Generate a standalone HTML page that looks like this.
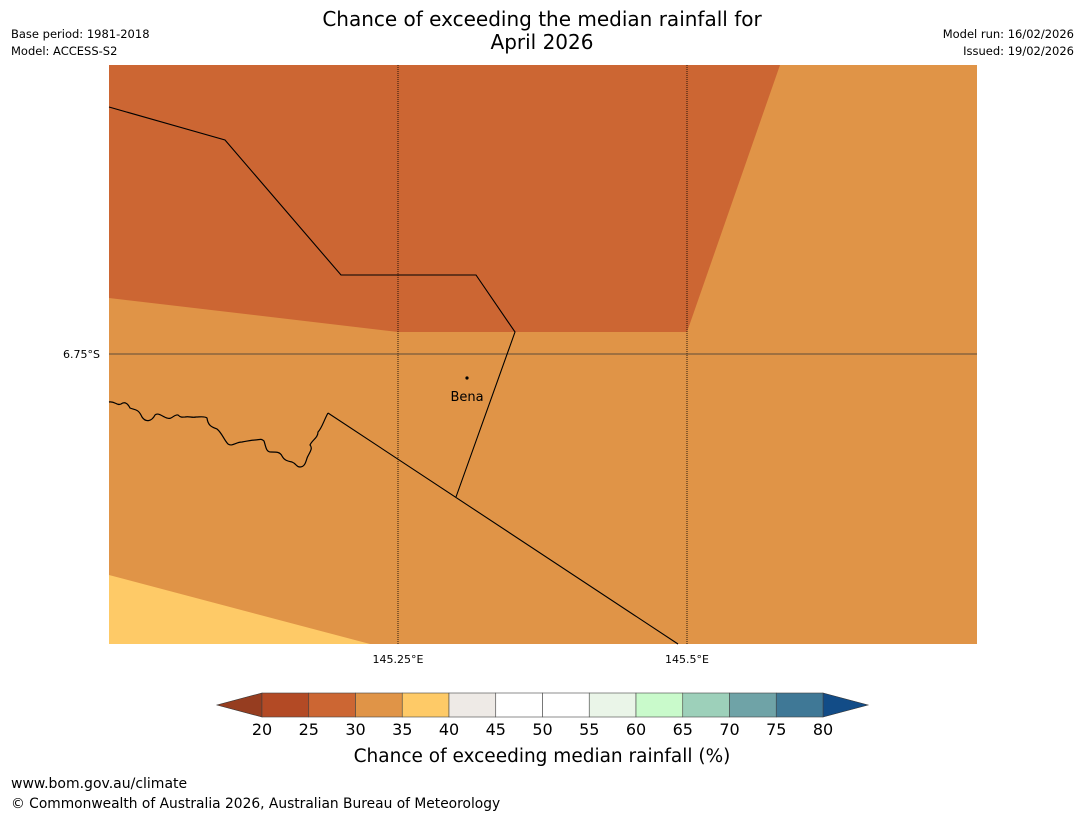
<!DOCTYPE html>
<html><head><meta charset="utf-8"><style>
body{margin:0;background:#fff;width:1085px;height:816px;overflow:hidden;font-family:"Liberation Sans","DejaVu Sans",sans-serif}
svg{position:absolute;left:0;top:0}
</style></head><body>
<svg width="1085" height="816" font-family="DejaVu Sans, Liberation Sans, sans-serif">
<text x="542" y="26" font-size="20" text-anchor="middle">Chance of exceeding the median rainfall for</text>
<text x="542" y="49" font-size="20" text-anchor="middle">April 2026</text>
<text x="11" y="38" font-size="11.5">Base period: 1981-2018</text>
<text x="11" y="55" font-size="11.5">Model: ACCESS-S2</text>
<text x="1074" y="38" font-size="11.5" text-anchor="end">Model run: 16/02/2026</text>
<text x="1074" y="55" font-size="11.5" text-anchor="end">Issued: 19/02/2026</text>
<g>
<rect x="109" y="65" width="868" height="579" fill="#E09447"/>
<polygon points="109,65 780,65 687,332 398,332 109,298" fill="#CC6633"/>
<polygon points="109,575 370,644 109,644" fill="#FECA67"/>
<line x1="398" y1="65" x2="398" y2="644" stroke="#000" stroke-width="0.8" stroke-dasharray="1,1"/>
<line x1="687" y1="65" x2="687" y2="644" stroke="#000" stroke-width="0.8" stroke-dasharray="1,1"/>
<line x1="109" y1="354" x2="977" y2="354" stroke="#333" stroke-width="0.8"/>
<polyline points="109,107 225,140 341,275 476,275 515,332 456,497" fill="none" stroke="#000" stroke-width="1.1"/>
<polyline points="328,413 678,644" fill="none" stroke="#000" stroke-width="1.1"/>
<path d="M109,402 C115,401 117,406 121,404 C125,401 128,404 130,408 C134,410 138,408 142,417 C146,423 152,421 155,415 C158,412 163,417 167,418 C172,420 174,414 178,415 C181,418 183,417 185,417 C189,416 192,418 196,417 C200,417 205,416 207,418 C208,426 212,427 217,429 C222,433 224,440 228,444 C232,447 236,442 242,442 C248,441 252,440 255,440 C259,440 261,438 264,441 C266,447 266,452 271,452 C277,452 280,452 282,456 C284,460 287,461 292,462 C297,464 296,467 300,467 C306,467 306,459 308,456 C310,452 313,448 310,445 C312,440 318,438 318,432 C322,428 324,420 328,413" fill="none" stroke="#000" stroke-width="1.2"/>
<circle cx="467" cy="378" r="1.6" fill="#000"/>
<text x="467" y="401" font-size="13" text-anchor="middle">Bena</text>
</g>
<text x="100" y="358" font-size="11" text-anchor="end">6.75°S</text>
<text x="398" y="663" font-size="11" text-anchor="middle">145.25°E</text>
<text x="687" y="663" font-size="11" text-anchor="middle">145.5°E</text>
<g id="cbar"></g>
<text x="542" y="762" font-size="18.5" text-anchor="middle">Chance of exceeding median rainfall (%)</text>
<text x="11" y="788" font-size="14">www.bom.gov.au/climate</text>
<text x="11" y="808" font-size="13.8">© Commonwealth of Australia 2026, Australian Bureau of Meteorology</text>
</svg>
<script>
const levels=[20,25,30,35,40,45,50,55,60,65,70,75,80];
const colors=["#B34A25","#CC6633","#E09447","#FECA67","#EEEAE6","#FFFFFF","#FFFFFF","#EAF5E8","#C9FACB","#9DD0BA","#6FA3A7","#3F7896"];
const NS="http://www.w3.org/2000/svg";
const g=document.getElementById('cbar');
const x0=262,x1=823,y0=693,h=24;
const sx=v=>x0+(v-levels[0])/(levels[levels.length-1]-levels[0])*(x1-x0);
function mk(t,a){const e=document.createElementNS(NS,t);for(const k in a)e.setAttribute(k,a[k]);g.appendChild(e);return e;}
let lt=mk('polygon',{points:`${x0},${y0} ${x0},${y0+h} 217,${y0+h/2}`,fill:'#963D20',stroke:'#333','stroke-width':0.6});


let rt=mk('polygon',{points:`${x1},${y0} ${x1},${y0+h} 868,${y0+h/2}`,fill:'#124C87',stroke:'#333','stroke-width':0.6});


colors.forEach((c,i)=>{
 const r=mk('rect',{x:sx(levels[i]),y:y0,width:sx(levels[i+1])-sx(levels[i]),height:h,fill:c,stroke:'#444','stroke-width':0.6});
 
 
});
levels.forEach(v=>{
 const t=mk('text',{x:sx(v),y:735,'font-size':16,'text-anchor':'middle'});
 t.textContent=v;
 
 
});
</script>
</body></html>
